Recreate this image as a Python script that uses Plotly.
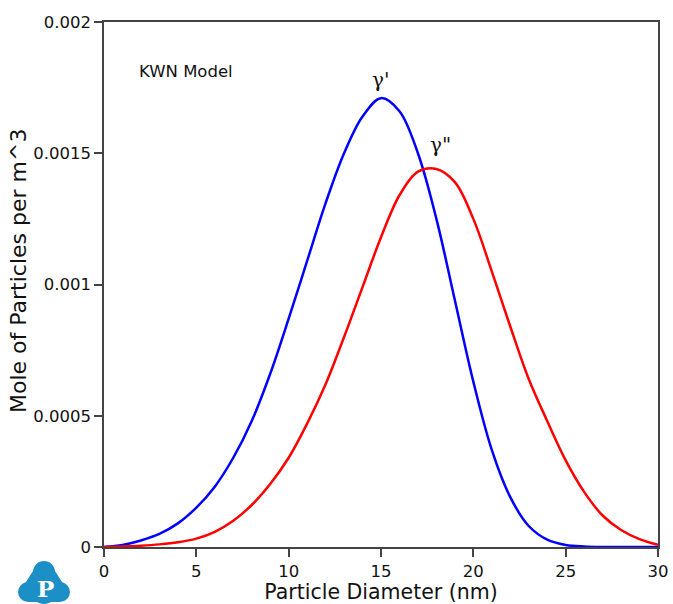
import plotly.graph_objects as go

# Particle diameter (nm)
diameter = list(range(0, 31))

# gamma' (blue) - mole of particles per m^3
gamma_prime = [0, 0.000008, 0.000025, 0.00005, 0.00009, 0.00015, 0.00023, 0.00034,
               0.00048, 0.00066, 0.00087, 0.00109, 0.00131, 0.00150, 0.00164, 0.00171,
               0.00166, 0.00150, 0.00125, 0.00094, 0.00063, 0.00037, 0.00019, 0.00008,
               0.000028, 0.000008, 0.000002, 0, 0, 0, 0]

# gamma'' (red)
gamma_dprime = [0, 0.000002, 0.000005, 0.00001, 0.000018, 0.000032, 0.000058, 0.0001,
                0.00016, 0.00024, 0.00034, 0.00047, 0.00062, 0.00080, 0.00099, 0.00118,
                0.00134, 0.00143, 0.00144, 0.00139, 0.00125, 0.00105, 0.00084, 0.00064,
                0.00048, 0.00033, 0.00021, 0.00012, 0.000065, 0.00003, 0.000008]

x_ticks = [0, 5, 10, 15, 20, 25, 30]
y_ticks = [0, 0.0005, 0.001, 0.0015, 0.002]
y_tick_labels = ["0", "0.0005", "0.001", "0.0015", "0.002"]

W, H = 673, 604
L, R, T, B = 104, 15, 22, 57
pw, ph = W - L - R, H - T - B


def px(x):
    return (x - L) / pw


def py(y):
    return (H - B - y) / ph


SANS = "DejaVu Sans, Verdana, sans-serif"
SERIF = "DejaVu Serif, Times New Roman, serif"

fig = go.Figure()
fig.add_trace(go.Scatter(x=diameter, y=gamma_prime, mode="lines",
                         line=dict(color="#0000ff", width=2.5, shape="spline", smoothing=1.0),
                         showlegend=False))
fig.add_trace(go.Scatter(x=diameter, y=gamma_dprime, mode="lines",
                         line=dict(color="#ff0000", width=2.5, shape="spline", smoothing=1.0),
                         showlegend=False))

axis_font = dict(family=SANS, size=16.5, color="#111")

fig.update_layout(
    width=W, height=H,
    margin=dict(l=L, r=R, t=T, b=B, autoexpand=False),
    paper_bgcolor="white", plot_bgcolor="white",
    font=dict(family=SANS, color="#111"),
    xaxis=dict(range=[0, 30], tickvals=x_ticks, ticks="outside", ticklen=8,
               tickcolor="#444", tickwidth=1.5, showgrid=False, zeroline=False,
               showline=True, linecolor="#444", linewidth=1.5, mirror=True,
               tickfont=axis_font,
               title=dict(text="Particle Diameter (nm)", font=dict(size=20.5), standoff=14)),
    yaxis=dict(range=[0, 0.002], tickvals=y_ticks, ticktext=y_tick_labels,
               ticks="outside", ticklen=8, tickcolor="#444", tickwidth=1.5,
               showgrid=False, zeroline=False, showline=True, linecolor="#444",
               linewidth=1.5, mirror=True, tickfont=axis_font),
    annotations=[
        dict(x=px(18), y=py(271), xref="paper", yref="paper", textangle=-90,
             text="Mole of Particles per m^3", showarrow=False,
             xanchor="center", yanchor="middle", font=dict(size=22, color="#111")),
        dict(x=1.8, y=0.00181, text="KWN Model", showarrow=False, xanchor="left",
             font=dict(size=16.5, color="#111")),
        dict(x=14.95, y=0.00178, text="γ'", showarrow=False,
             font=dict(family=SERIF, size=20, color="#111")),
        dict(x=18.2, y=0.00153, text='γ"', showarrow=False,
             font=dict(family=SERIF, size=20, color="#111")),
        dict(x=px(45), y=py(588), xref="paper", yref="paper", text="<b>P</b>",
             xanchor="center", yanchor="middle", borderpad=0,
             showarrow=False, font=dict(family=SERIF, size=23, color="white")),
    ],
)

logo_color = "#1b8fc6"
circles = [(44, 572, 11), (28, 592, 10), (60, 592, 10), (44, 591, 13)]
shapes = []
for cx, cy, r in circles:
    shapes.append(dict(type="circle", xref="paper", yref="paper",
                       x0=px(cx - r), x1=px(cx + r), y0=py(cy + r), y1=py(cy - r),
                       fillcolor=logo_color, line=dict(width=0), layer="above"))
poly = [(35, 568), (53, 568), (66, 588), (60, 602), (28, 602), (22, 588)]
path = "M " + " L ".join(f"{px(a):.5f},{py(b):.5f}" for a, b in poly) + " Z"
shapes.append(dict(type="path", xref="paper", yref="paper", path=path,
                   fillcolor=logo_color, line=dict(width=0), layer="above"))
fig.update_layout(shapes=shapes)

fig.write_html("out.html")
